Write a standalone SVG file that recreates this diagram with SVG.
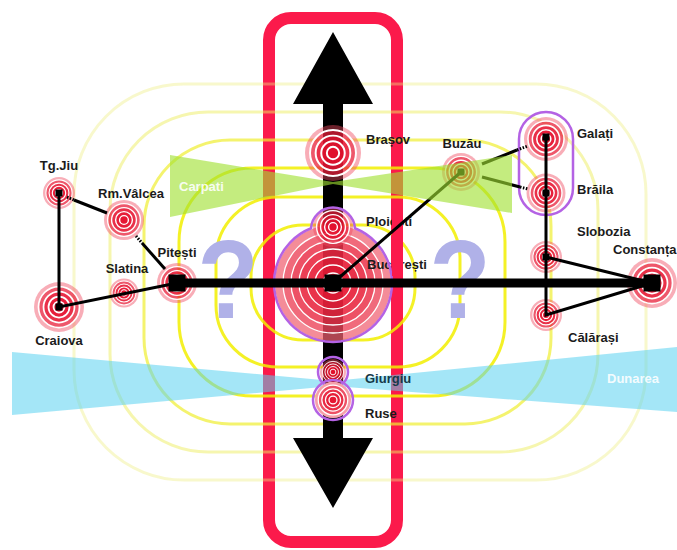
<svg xmlns="http://www.w3.org/2000/svg" width="677" height="550" viewBox="0 0 677 550">
<defs>
<style>
.lbl{font-family:"Liberation Sans",Arial,sans-serif;font-weight:bold;font-size:13px;fill:#1b1b1b}
.wl{font-family:"Liberation Sans",Arial,sans-serif;font-weight:bold;font-size:13px;fill:#fff;fill-opacity:.9}
.q{font-family:"Liberation Sans",Arial,sans-serif;font-weight:bold;font-size:111px;fill:#b0b1e8;text-anchor:middle}
.mid{text-anchor:middle}
.zone{fill:none;stroke-width:3}
.ln{stroke:#000;stroke-width:3;fill:none}
.dot{stroke:#000;stroke-width:3;fill:none;stroke-dasharray:1.5 1.5}
.halo{fill:none;stroke:#b462e4;stroke-width:2.5}
.sq{fill:#000}
</style>
<!-- generic city marker, radius 10 -->
<g id="tgt">
 <circle r="10" fill="#ef4a60" fill-opacity=".45"/>
 <g fill="#e6102e" fill-opacity=".55" stroke="#fff" stroke-width=".7">
  <circle r="8.2"/><circle r="6.2"/><circle r="4.2"/><circle r="2.2"/>
 </g>
</g>
</defs>

<rect width="677" height="550" fill="#fff"/>

<!-- north-south corridor frame -->
<g id="frame">
 <rect x="269" y="18" width="128" height="524" rx="22" fill="none" stroke="#fb1a4b" stroke-width="12"/>
</g>

<!-- distance rings around the capital -->
<g id="zones">
 <rect class="zone" x="74" y="84" width="572" height="396" rx="110" stroke="#eeee80" stroke-opacity=".4"/>
 <rect class="zone" x="110" y="112" width="488" height="340" rx="98" stroke="#eeee60" stroke-opacity=".5"/>
 <rect class="zone" x="144" y="140" width="407" height="284" rx="86" stroke="#f0ee30" stroke-opacity=".7"/>
 <rect class="zone" x="179" y="168" width="326" height="228" rx="74" stroke="#f2ee00" stroke-opacity=".85"/>
 <rect class="zone" x="216" y="197" width="244" height="170" rx="62" stroke="#f2ee00" stroke-opacity=".85"/>
 <rect class="zone" x="251" y="225" width="164" height="115" rx="52" stroke="#f2ee00" stroke-opacity=".85"/>
</g>

<!-- Danube band -->
<g id="dunarea">
 <polygon points="12,352 333,381 677,347 677,412 333,386 12,415" fill="#5ad2f0" fill-opacity=".55"/>
 <text class="wl" x="607" y="383">Dunarea</text>
</g>

<!-- open questions west and east -->
<g id="questions">
 <text class="q" transform="translate(228 318) scale(0.9 1)">?</text>
 <text class="q" transform="translate(460 318) scale(0.9 1)">?</text>
</g>

<!-- main north-south axis -->
<g id="axis">
 <path d="M333 32 L373 104 L343 104 L343 438 L373 438 L333 508 L293 438 L323 438 L323 104 L293 104 Z" fill="#000"/>
</g>

<g id="nodes">
 <g id="tgjiu">
  <use href="#tgt" transform="translate(59 193) scale(1.6)"/>
  <text class="lbl mid" x="59" y="169.5">Tg.Jiu</text>
 </g>
 <g id="rmvalcea">
  <use href="#tgt" transform="translate(124 220) scale(2)"/>
  <text class="lbl mid" x="131" y="198">Rm.Vâlcea</text>
 </g>
 <g id="craiova">
  <use href="#tgt" transform="translate(59 307) scale(2.5)"/>
  <text class="lbl mid" x="59" y="345">Craiova</text>
 </g>
 <g id="slatina">
  <use href="#tgt" transform="translate(124 293) scale(1.45)"/>
  <text class="lbl mid" x="127" y="273">Slatina</text>
 </g>
 <g id="pitesti">
  <use href="#tgt" transform="translate(177 283) scale(2)"/>
  <text class="lbl mid" x="177" y="256.5">Pitești</text>
 </g>
 <g id="brasov">
  <use href="#tgt" transform="translate(333 153) scale(2.8)"/>
  <text class="lbl" x="366" y="144">Brașov</text>
 </g>
 <g id="bucuresti">
  <circle cx="333" cy="283" r="58" fill="#f06070" fill-opacity=".72"/>
  <g fill="#e6102e" fill-opacity=".27" stroke="#fff" stroke-width="1.3">
   <circle cx="333" cy="283" r="50"/><circle cx="333" cy="283" r="42"/><circle cx="333" cy="283" r="34"/>
   <circle cx="333" cy="283" r="26"/><circle cx="333" cy="283" r="18"/><circle cx="333" cy="283" r="10"/>
  </g>
  <text class="lbl" x="367" y="269">București</text>
 </g>
 <g id="ploiesti">
  <use href="#tgt" transform="translate(333 227) scale(2)"/>
  <text class="lbl" x="366" y="226">Ploiești</text>
 </g>
 <g id="metro">
  <path class="halo" d="M311.04 228.24 A22 22 0 0 1 354.96 228.24 A59 59 0 1 1 311.04 228.24 Z"/>
 </g>
 <g id="giurgiu">
  <use href="#tgt" transform="translate(333 372) scale(1.3)"/>
  <circle class="halo" cx="333" cy="372" r="15" stroke-width="3"/>
  <text class="lbl" x="365" y="382.5" style="fill:#163a48">Giurgiu</text>
 </g>
 <g id="ruse">
  <circle cx="333" cy="400" r="18" fill="#fbe6e6"/>
  <use href="#tgt" transform="translate(333 400) scale(1.8)"/>
  <circle class="halo" cx="333" cy="400" r="20" stroke-width="3"/>
  <text class="lbl" x="365" y="417.5">Ruse</text>
 </g>
 <g id="buzau">
  <use href="#tgt" transform="translate(461 172) scale(1.9)"/>
  <text class="lbl mid" x="462" y="148">Buzău</text>
 </g>
 <g id="galati">
  <use href="#tgt" transform="translate(546 139) scale(2.2)"/>
  <text class="lbl" x="577" y="137.5">Galați</text>
 </g>
 <g id="braila">
  <use href="#tgt" transform="translate(546 193) scale(1.95)"/>
  <text class="lbl" x="577" y="194">Brăila</text>
 </g>
 <g id="galati-braila">
  <rect class="halo" x="519" y="112" width="54" height="103" rx="27"/>
 </g>
 <g id="slobozia">
  <use href="#tgt" transform="translate(546 257) scale(1.6)"/>
  <text class="lbl" x="577" y="236">Slobozia</text>
 </g>
 <g id="calarasi">
  <use href="#tgt" transform="translate(546 315) scale(1.6)"/>
  <text class="lbl" x="568" y="341.5">Călărași</text>
 </g>
 <g id="constanta">
  <use href="#tgt" transform="translate(652 283) scale(2.5)"/>
  <text class="lbl" x="613" y="254">Constanța</text>
 </g>
</g>

<!-- frame edge passing over the central labels -->
<rect x="392" y="212" width="11" height="64" fill="#fb1a4b"/>

<g id="connectors">
 <path class="ln" d="M59 193 V307 L177 283"/>
 <path class="dot" d="M67 197 L74 200"/>
 <path class="ln" d="M74 200 L107 213"/>
 <path class="dot" d="M136 236 L142 243"/>
 <path class="ln" d="M142 243 L165 269"/>
 <path d="M177 283 H652" stroke="#000" stroke-width="9"/>
 <path class="ln" d="M461 172 L333 283"/>
 <path class="ln" d="M482 164 L517 150"/>
 <path class="dot" d="M517 150 L528 146"/>
 <path class="ln" d="M482 177 L520 187"/>
 <path class="dot" d="M520 187 L528 189"/>
 <path class="ln" d="M546 137 V315 L652 283 M546 257 L652 283"/>
 <rect class="sq" x="168.5" y="274.5" width="17" height="17"/>
 <rect class="sq" x="324.5" y="274.5" width="17" height="17"/>
 <rect class="sq" x="643.5" y="274.5" width="17" height="17"/>
 <rect class="sq" x="55.5" y="189.5" width="7" height="7"/>
 <rect class="sq" x="55.5" y="303.5" width="7" height="7"/>
 <rect class="sq" x="457.5" y="168.5" width="7" height="7"/>
 <rect class="sq" x="542.5" y="133.5" width="7" height="7"/>
 <rect class="sq" x="542.5" y="189.5" width="7" height="7"/>
 <rect class="sq" x="542.5" y="253.5" width="7" height="7"/>
</g>

<!-- Carpathian band -->
<g id="carpati">
 <polygon points="170,155 333,182 512,155 512,213 333,184 170,217" fill="#a0e030" fill-opacity=".62"/>
 <text class="wl" x="179" y="191">Carpati</text>
</g>
</svg>
